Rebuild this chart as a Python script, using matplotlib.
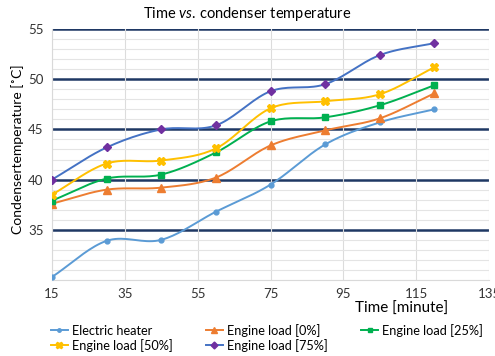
import matplotlib
matplotlib.use('Agg')
import matplotlib.pyplot as plt
import numpy as np

plt.rcParams['font.family'] = ['Lato', 'DejaVu Sans']
plt.rcParams['mathtext.fontset'] = 'custom'
plt.rcParams['mathtext.it'] = 'Lato:italic'
plt.rcParams['mathtext.rm'] = 'Lato'

# data
time_min = [15, 30, 45, 60, 75, 90, 105, 120]
electric_heater = [30.3, 33.9, 34.0, 36.8, 39.5, 43.5, 45.7, 47.0]
engine_0 = [37.6, 39.0, 39.2, 40.2, 43.4, 44.9, 46.1, 48.6]
engine_25 = [37.9, 40.1, 40.5, 42.7, 45.8, 46.2, 47.4, 49.4]
engine_50 = [38.5, 41.6, 41.9, 43.1, 47.1, 47.8, 48.5, 51.2]
engine_75 = [40.0, 43.2, 45.0, 45.4, 48.8, 49.5, 52.4, 53.6]

labels = ['Electric heater', 'Engine load [0%]', 'Engine load [25%]',
          'Engine load [50%]', 'Engine load [75%]']
x_ticks = [15, 35, 55, 75, 95, 115, 135]
y_ticks = [35, 40, 45, 50, 55]


def smooth(x, y, n=20):
    # catmull-rom like Excel smoothed lines
    x = np.asarray(x, float)
    y = np.asarray(y, float)
    px = np.concatenate([[2 * x[0] - x[1]], x, [2 * x[-1] - x[-2]]])
    py = np.concatenate([[2 * y[0] - y[1]], y, [2 * y[-1] - y[-2]]])
    xs, ys = [], []
    t = np.linspace(0, 1, n)
    for i in range(1, len(px) - 2):
        for p, out in ((px, xs), (py, ys)):
            p0, p1, p2, p3 = p[i - 1], p[i], p[i + 1], p[i + 2]
            out.extend(0.5 * ((2 * p1) + (-p0 + p2) * t
                              + (2 * p0 - 5 * p1 + 4 * p2 - p3) * t ** 2
                              + (-p0 + 3 * p1 - 3 * p2 + p3) * t ** 3))
    return xs, ys


fig = plt.figure(figsize=(4.95, 3.56), dpi=100)
ax = fig.add_axes([0.105, 0.2135, 0.883, 0.705])

series = [electric_heater, engine_0, engine_25, engine_50, engine_75]
line_cols = ['#5B9BD5', '#ED7D31', '#00B050', '#FFC000', '#4472C4']
mark_cols = ['#5B9BD5', '#ED7D31', '#00B050', '#FFC000', '#7030A0']
markers = ['o', '^', 's', 'X', 'D']
msizes = [3.5, 5.5, 4.5, 5.5, 4.5]

handles = []
for yv, lc, mc, m, ms, lab in zip(series, line_cols, mark_cols, markers, msizes, labels):
    sx, sy = smooth(time_min, yv)
    ax.plot(sx, sy, color=lc, lw=1.4, zorder=3)
    ax.plot(time_min, yv, ls='none', marker=m, ms=ms, color=mc, zorder=4)
    h, = ax.plot([], [], color=lc, lw=1.4, marker=m, ms=ms - 1, mfc=mc, mec=mc, label=lab)
    handles.append(h)

ax.set_xlim(15, 135)
ax.set_ylim(30, 55)
ax.set_xticks(x_ticks)
ax.set_yticks(y_ticks)
ax.set_yticks(np.arange(30, 56, 1), minor=True)
ax.grid(axis='y', which='minor', color='#E4E4E4', lw=0.8, zorder=0)
ax.grid(axis='x', which='major', color='#DCDCDC', lw=0.8, zorder=0)
for yv in y_ticks:
    ax.axhline(yv, color='#1F3864', lw=1.8, zorder=1)
ax.tick_params(which='both', length=0, labelsize=9.5, colors='#333333', pad=6)
for s in ['top', 'right']:
    ax.spines[s].set_visible(False)
for s in ['left', 'bottom']:
    ax.spines[s].set_color('#D9D9D9')

fig.text(0.5, 0.962, r'$\mathrm{Time}\ \mathit{vs.}\,\mathrm{condenser\ temperature}$',
         fontsize=10.5, ha='center', va='center')
fig.text(0.812, 0.132, 'Time [minute]', fontsize=11, ha='center', va='center')
fig.text(0.036, 0.58, 'Condensertemperature [˚C]', fontsize=10, rotation=90,
         ha='center', va='center')

# matplotlib fills legend columns first, reorder so it reads row by row
order = [0, 3, 1, 4, 2]
fig.legend(handles=[handles[i] for i in order], loc='lower left',
           bbox_to_anchor=(0.08, -0.02), ncol=3, frameon=False, fontsize=9.2,
           handlelength=1.3, handletextpad=0.35, columnspacing=2.6,
           labelspacing=0.15)

fig.savefig('out.png', dpi=100)
